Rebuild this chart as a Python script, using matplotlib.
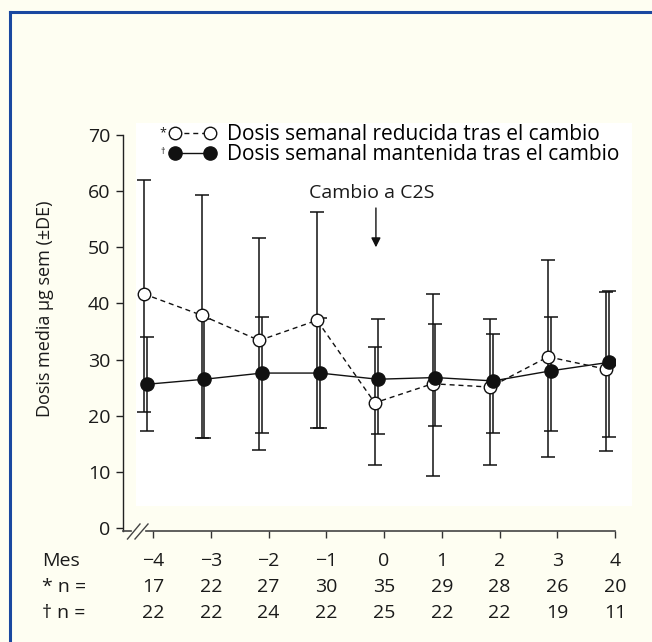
import matplotlib
matplotlib.use("Agg")
import matplotlib.pyplot as plt
from matplotlib.lines import Line2D
from matplotlib.patches import Rectangle
from matplotlib.transforms import blended_transform_factory

plt.rcParams['font.family'] = ['Open Sans', 'DejaVu Sans']

# ---- data ----
months = [-4, -3, -2, -1, 0, 1, 2, 3, 4]
month_labels = ["−4", "−3", "−2", "−1", "0", "1", "2", "3", "4"]
red_mean = [41.7, 37.9, 33.4, 37.0, 22.3, 25.7, 25.1, 30.5, 28.3]
red_upper = [62.0, 59.4, 51.7, 56.3, 32.2, 41.6, 37.3, 47.8, 42.1]
red_lower = [20.7, 16.0, 13.9, 17.8, 11.2, 9.3, 11.3, 12.7, 13.8]
man_mean = [25.6, 26.5, 27.6, 27.6, 26.5, 26.8, 26.2, 28.0, 29.5]
man_upper = [34.0, 37.2, 37.6, 37.4, 37.3, 36.4, 34.5, 37.6, 42.3]
man_lower = [17.3, 16.0, 17.0, 17.9, 16.7, 18.2, 17.0, 17.2, 16.3]
n_red = [17, 22, 27, 30, 35, 29, 28, 26, 20]
n_man = [22, 22, 24, 22, 25, 22, 22, 19, 11]
yticks = [0, 10, 20, 30, 40, 50, 60, 70]

legend_red = "Dosis semanal reducida tras el cambio"
legend_man = "Dosis semanal mantenida tras el cambio"
ylabel = "Dosis media µg sem (±DE)"
annot = "Cambio a C2S"

W, H = 652, 642
BG = '#FEFEF2'
TXT = '#1a1a1a'

fig = plt.figure(figsize=(W / 100, H / 100), dpi=100, facecolor=BG)


def fx(px):
    return px / W


def fy(py):
    return 1 - py / H


# border (top & left)
fig.add_artist(Line2D([fx(10), fx(W)], [fy(12), fy(12)], color='#1A48A0', lw=2.2))
fig.add_artist(Line2D([fx(10), fx(10)], [fy(12), fy(H)], color='#1A48A0', lw=2.2))

# white panel
fig.add_artist(Rectangle((fx(136), fy(506)), fx(632) - fx(136), fy(123) - fy(506),
                         facecolor='white', edgecolor='none', zorder=0))

ax = fig.add_axes([fx(122.7), fy(531), fx(615) - fx(122.7), fy(135) - fy(531)])
ax.set_facecolor('none')
ax.set_xlim(-4.525, 4.0)
ax.set_ylim(-0.53, 70)

dx_red, dx_man = -0.16, -0.11
xr = [m + dx_red for m in months]
xm = [m + dx_man for m in months]

err_red = [[m - l for m, l in zip(red_mean, red_lower)], [u - m for m, u in zip(red_mean, red_upper)]]
err_man = [[m - l for m, l in zip(man_mean, man_lower)], [u - m for m, u in zip(man_mean, man_upper)]]

ax.errorbar(xr, red_mean, yerr=err_red, fmt='none', ecolor='#111111', elinewidth=1.1,
            capsize=4.7, capthick=1.1, zorder=2)
ax.errorbar(xm, man_mean, yerr=err_man, fmt='none', ecolor='#111111', elinewidth=1.1,
            capsize=4.7, capthick=1.1, zorder=2)
ax.plot(xr, red_mean, color='#111111', lw=1.0, ls=(0, (3.6, 2.8)), marker='o', ms=9,
        mfc='white', mec='#111111', mew=1.0, zorder=3)
ax.plot(xm, man_mean, color='#111111', lw=1.0, ls='-', marker='o', ms=9.5,
        mfc='#111111', mec='#111111', zorder=4)

# annotation
ax.annotate('', xy=(0 + dx_red + 0.02, 50.0), xytext=(0 + dx_red + 0.02, 57.0),
            arrowprops=dict(arrowstyle='-|>', color='#111111', lw=1.0, mutation_scale=14,
                            shrinkA=0, shrinkB=0))
ax.text(0 + dx_red - 0.05, 59.6, annot, ha='center', va='center', fontsize=14, color=TXT)

# axes styling
for s in ['top', 'right', 'bottom']:
    ax.spines[s].set_visible(False)
ax.spines['left'].set_color('#222222')
ax.spines['left'].set_linewidth(1.0)
ax.spines['left'].set_bounds(-0.53, 70)
ax.set_yticks(yticks)
ax.set_yticklabels([str(v) for v in yticks])
ax.tick_params(axis='y', direction='out', length=5, width=1.0, color='#222222',
               labelsize=14, labelcolor=TXT, pad=4)
ax.set_xticks(months)
ax.set_xticklabels([])
ax.tick_params(axis='x', direction='out', length=5, width=1.0, color='#333333')

# broken x axis line
ax_col = '#444444'
fig.add_artist(Line2D([fx(122.7), fx(131)], [fy(531), fy(531)], color=ax_col, lw=1.2))
fig.add_artist(Line2D([fx(146), fx(615)], [fy(531), fy(531)], color=ax_col, lw=1.2))
fig.add_artist(Line2D([fx(127.5), fx(140)], [fy(539), fy(524)], color=ax_col, lw=1.0))
fig.add_artist(Line2D([fx(135), fx(148)], [fy(539), fy(524)], color=ax_col, lw=1.0))

# y label
fig.text(fx(45), fy(309), ylabel, rotation=90, ha='center', va='center', fontsize=13, color=TXT)

# legend
fig.add_artist(Line2D([fx(175), fx(210)], [fy(133), fy(133)], color='#111111', lw=1.0,
                      ls=(0, (3.6, 2.8)), marker='o', ms=9, mfc='white', mec='#111111', mew=1.0))
fig.add_artist(Line2D([fx(175), fx(210)], [fy(153), fy(153)], color='#111111', lw=1.0,
                      ls='-', marker='o', ms=9.5, mfc='#111111', mec='#111111'))
fig.text(fx(163), fy(133), '*', ha='center', va='center', fontsize=9, color=TXT)
fig.text(fx(163), fy(152), '†', ha='center', va='center', fontsize=6.5, color=TXT)
fig.text(fx(227), fy(134), legend_red, ha='left', va='center', fontsize=15, color='#000000')
fig.text(fx(227), fy(154), legend_man, ha='left', va='center', fontsize=15, color='#000000')

# table below axis
tr = blended_transform_factory(ax.transData, fig.transFigure)
rows_y = [fy(561), fy(587), fy(613)]
fs_t = 14
fig.text(fx(42), rows_y[0], 'Mes', ha='left', va='center', fontsize=fs_t, color=TXT)
fig.text(fx(42), rows_y[1], '* n =', ha='left', va='center', fontsize=fs_t, color=TXT)
fig.text(fx(42), rows_y[2], '† n =', ha='left', va='center', fontsize=fs_t, color=TXT)
for m, lab, a, b in zip(months, month_labels, n_red, n_man):
    ax.text(m, rows_y[0], lab, transform=tr, ha='center', va='center', fontsize=fs_t, color=TXT)
    ax.text(m, rows_y[1], str(a), transform=tr, ha='center', va='center', fontsize=fs_t, color=TXT)
    ax.text(m, rows_y[2], str(b), transform=tr, ha='center', va='center', fontsize=fs_t, color=TXT)

fig.savefig('out.png', dpi=100, facecolor=BG)
